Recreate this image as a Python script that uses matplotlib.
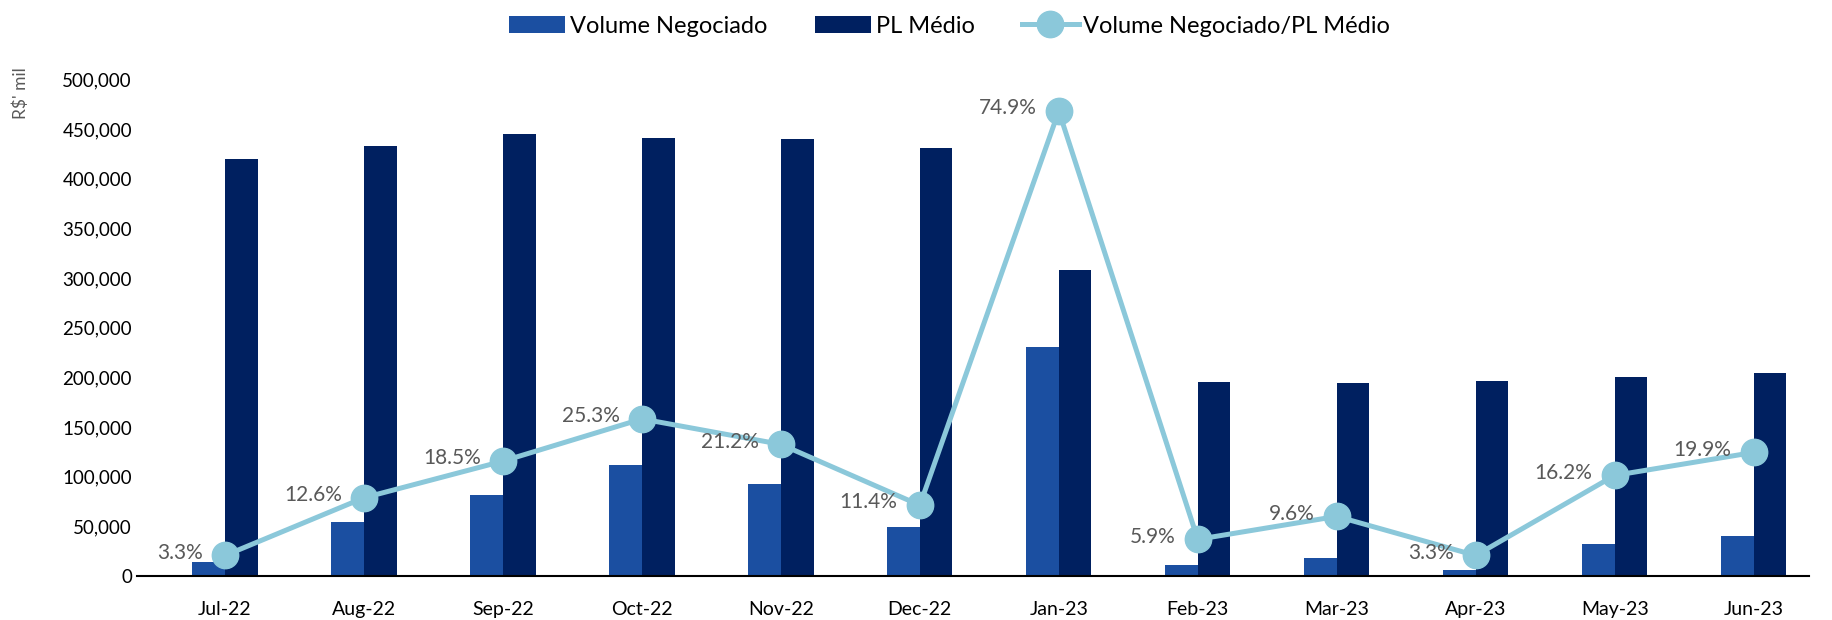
import matplotlib
matplotlib.use('Agg')
import matplotlib.pyplot as plt
import numpy as np
from matplotlib.ticker import FuncFormatter

plt.rcParams['font.family'] = ['Lato', 'DejaVu Sans']

# dados (R$ mil)
meses = ['Jul-22', 'Aug-22', 'Sep-22', 'Oct-22', 'Nov-22', 'Dec-22',
         'Jan-23', 'Feb-23', 'Mar-23', 'Apr-23', 'May-23', 'Jun-23']
volume = [14000, 54500, 82000, 111500, 93000, 49000,
          231000, 11500, 18600, 6500, 32400, 40600]
pl_medio = [420000, 433000, 445000, 441000, 440000, 431000,
            308000, 195500, 194000, 196500, 200000, 204000]
razao = [3.3, 12.6, 18.5, 25.3, 21.2, 11.4, 74.9, 5.9, 9.6, 3.3, 16.2, 19.9]

cor_vol = '#1B4FA1'
cor_pl = '#002060'
cor_linha = '#8BC8DA'
cor_rotulo = '#595959'

fig = plt.figure(figsize=(18.33, 6.2), dpi=100)
ax = fig.add_axes([0.075, 0.071, 0.912, 0.801])
x = np.arange(len(meses))
w = 0.235

b1 = ax.bar(x - w / 2, volume, w, color=cor_vol, label='Volume Negociado')
b2 = ax.bar(x + w / 2, pl_medio, w, color=cor_pl, label='PL Médio')

ax.set_ylim(0, 500000)
ax.set_xlim(-0.63, 11.4)
ax.set_yticks(np.arange(0, 500001, 50000))
ax.yaxis.set_major_formatter(FuncFormatter(lambda v, p: f'{v:,.0f}'))
ax.set_xticks(x)
ax.set_xticklabels(meses)
ax.tick_params(axis='both', length=0, labelsize=13.5, colors='black')
ax.tick_params(axis='x', pad=18, labelsize=14)
ax.tick_params(axis='y', pad=4)
for s in ['top', 'right', 'left']:
    ax.spines[s].set_visible(False)
ax.spines['bottom'].set_linewidth(1.5)
ax.spines['bottom'].set_color('black')

fig.text(0.007, 0.85, "R$' mil", rotation=90, color=cor_rotulo, fontsize=12.5,
         ha='left', va='center')

# eixo secundario para a razao
ax2 = ax.twinx()
ax2.set_ylim(0, 80)
ax2.set_yticks([])
for s in ax2.spines.values():
    s.set_visible(False)
l1, = ax2.plot(x, razao, color=cor_linha, lw=3.6, marker='o', markersize=19,
               label='Volume Negociado/PL Médio', zorder=5)

for xi, r in zip(x, razao):
    ax2.annotate(f'{r:.1f}%', (xi, r), xytext=(-16, 2), textcoords='offset points',
                 ha='right', va='center', fontsize=15, color=cor_rotulo, zorder=6)

fig.legend(handles=[b1, b2, l1], loc='center', bbox_to_anchor=(0.518, 0.958),
           ncol=3, frameon=False, fontsize=17, handlelength=2.4, handleheight=0.7,
           columnspacing=2.0, handletextpad=0.2)

fig.savefig('out.png', dpi=100)
